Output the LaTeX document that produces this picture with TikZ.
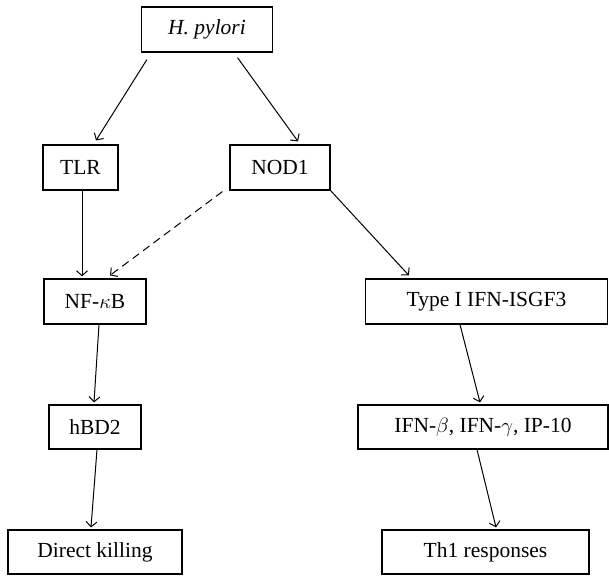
\documentclass[tikz,border=0pt]{standalone}
\usepackage{fontspec}
\setmainfont{Liberation Serif}
\usetikzlibrary{arrows.meta}
\begin{document}
\begin{tikzpicture}[x=1pt,y=-1pt,
  box/.style={draw,line width=1.2pt,inner sep=0pt,font=\fontsize{21.5}{25}\selectfont},
  arr/.style={line width=1pt,-{Straight Barb[length=5pt,width=11pt,line width=1pt]}},
  dsh/.style={arr,dash pattern=on 8pt off 5pt}]
\useasboundingbox (0,0) rectangle (609,575);
\node[box,minimum width=131pt,minimum height=45pt] (hp) at (207,29.5) {\itshape H. pylori};
\node[box,minimum width=75pt,minimum height=45pt] (tlr) at (80.5,167.5) {TLR};
\node[box,minimum width=100pt,minimum height=45pt] (nod) at (280,167.5) {NOD1};
\node[box,minimum width=102pt,minimum height=45pt] (nf) at (95,301.5) {NF-$\kappa$B};
\node[box,minimum width=242pt,minimum height=45pt] (ty) at (486.5,301.5) {Type I IFN-ISGF3};
\node[box,minimum width=92pt,minimum height=44pt] (hbd) at (95,427) {hBD2};
\node[box,minimum width=250pt,minimum height=44pt] (ifn) at (483,427) {IFN-$\beta$, IFN-$\gamma$, IP-10};
\node[box,minimum width=174pt,minimum height=44pt] (dk) at (95,552) {Direct killing};
\node[box,minimum width=207pt,minimum height=44pt] (th) at (485.5,552) {Th1 responses};
\draw[arr] ([xshift=6pt,yshift=-7pt]hp.south west) -- ([xshift=15.5pt,yshift=4pt]tlr.north);
\draw[arr] ([xshift=30.5pt,yshift=-5pt]hp.south) -- ([xshift=18pt,yshift=3pt]nod.north);
\draw[arr] ([xshift=1.5pt]tlr.south) -- ([xshift=-13pt,yshift=2pt]nf.north);
\draw[dsh] ([xshift=-7pt,yshift=-1pt]nod.south west) -- ([xshift=15pt,yshift=3pt]nf.north);
\draw[arr] (nod.south east) -- ([xshift=44pt,yshift=3pt]ty.north west);
\draw[arr] ([xshift=4pt]nf.south) -- ([xshift=-1pt,yshift=2pt]hbd.north);
\draw[arr] ([xshift=2pt]hbd.south) -- ([xshift=-4pt,yshift=2pt]dk.north);
\draw[arr] ([xshift=-26.5pt]ty.south) -- ([xshift=-3pt,yshift=2pt]ifn.north);
\draw[arr] ([xshift=-6pt]ifn.south) -- ([xshift=10.5pt,yshift=2pt]th.north);
\end{tikzpicture}
\end{document}
